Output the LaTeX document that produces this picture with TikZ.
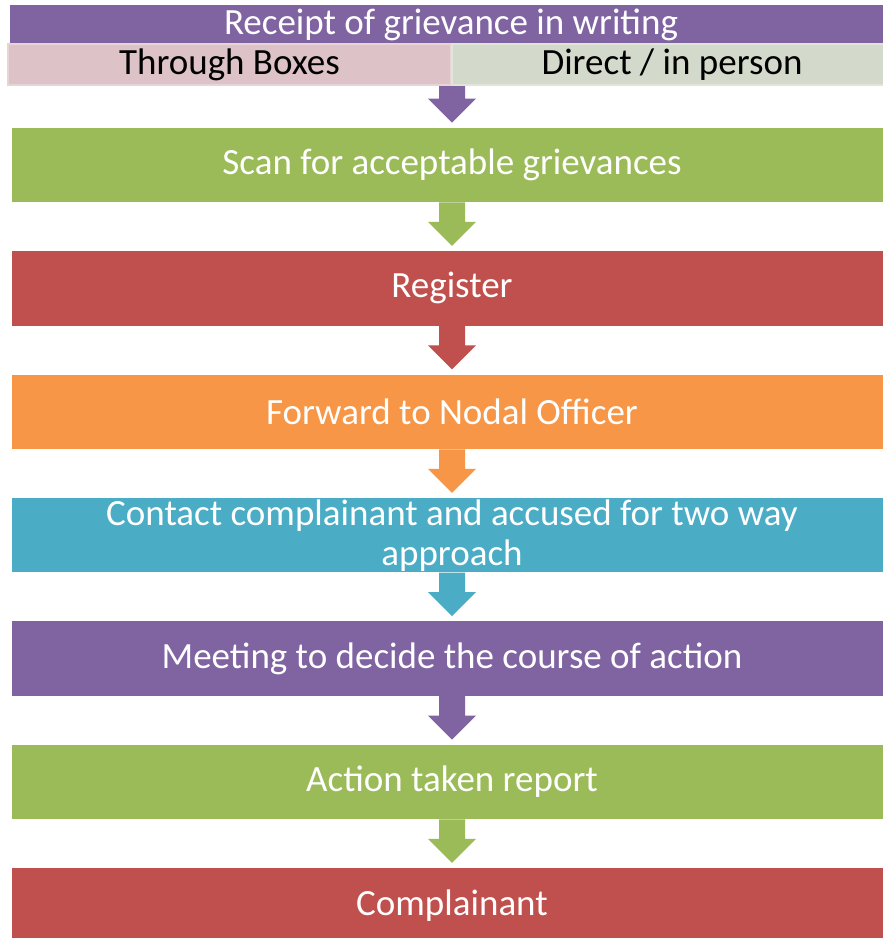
\documentclass[tikz,border=0pt]{standalone}
\usepackage{fontspec}
\setmainfont{Carlito}
\usetikzlibrary{calc,positioning}

\definecolor{ofcPurple}{HTML}{8064A2}
\definecolor{ofcGreen}{HTML}{9BBB59}
\definecolor{ofcRed}{HTML}{C0504D}
\definecolor{ofcOrange}{HTML}{F79646}
\definecolor{ofcAqua}{HTML}{4BACC6}
\definecolor{boxPink}{HTML}{DDC2C7}
\definecolor{boxPinkLine}{HTML}{E8D3D7}
\definecolor{boxSage}{HTML}{D4DACB}
\definecolor{boxSageLine}{HTML}{E0E5D8}

% block arrow from the bottom of one stage to the top of the next
\newcommand{\flowarrow}[3]{%
	\fill[#3] ($(#1)+(-13,0)$) -- ($(#1)+(13,0)$)
	-- ($(#2)+(13,29)$) -- ($(#2)+(24,29)$)
	-- ($(#2)+(0,5)$)
	-- ($(#2)+(-24,29)$) -- ($(#2)+(-13,29)$) -- cycle;
}

\tikzset{
	stage/.style={fill=#1, text=white, minimum width=880pt, minimum height=74.5pt,
		inner sep=0pt, align=center, font=\fontsize{37}{40}\selectfont},
	route/.style={fill=#1, text=black, minimum height=41pt, inner sep=0pt,
		line width=2pt, font=\fontsize{37}{40}\selectfont},
}

\begin{document}
\begin{tikzpicture}[x=1pt, y=1pt]
	\clip (0,0) rectangle (883,-938);
	\fill[white] (0,0) rectangle (883,-938);

	% heading and the two ways in
	\node[stage=ofcPurple, minimum height=39pt, minimum width=882pt] (receipt) at (451,-24.5) {Receipt of grievance in writing};
	\node[route=boxPink, draw=boxPinkLine, minimum width=443pt] (boxes) at (229.5,-64.5) {Through Boxes};
	\node[route=boxSage, draw=boxSageLine, minimum width=440pt] (direct) at (672,-64.5) {Direct / in person};

	% the stages
	\node[stage=ofcGreen] (scan) at (452,-165) {Scan for acceptable grievances};
	\node[stage=ofcRed, below=48.5pt of scan] (register) {Register};
	\node[stage=ofcOrange, below=48.5pt of register] (forward) {Forward to Nodal Officer};
	\node[stage=ofcAqua, below=48.5pt of forward] (contact) {Contact complainant and accused for two way\\approach};
	\node[stage=ofcPurple, below=48.5pt of contact] (meeting) {Meeting to decide the course of action};
	\node[stage=ofcGreen, below=48.5pt of meeting] (report) {Action taken report};
	\node[stage=ofcRed, below=48.5pt of report] (complainant) {Complainant};

	\flowarrow{boxes.south east}{scan.north}{ofcPurple}
	\flowarrow{scan.south}{register.north}{ofcGreen}
	\flowarrow{register.south}{forward.north}{ofcRed}
	\flowarrow{forward.south}{contact.north}{ofcOrange}
	\flowarrow{contact.south}{meeting.north}{ofcAqua}
	\flowarrow{meeting.south}{report.north}{ofcPurple}
	\flowarrow{report.south}{complainant.north}{ofcGreen}
\end{tikzpicture}
\end{document}
